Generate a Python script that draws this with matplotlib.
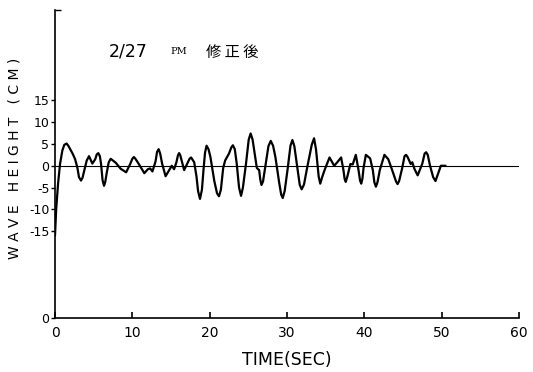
"""
Wave height record, 2/27 PM (after correction)
"""
import matplotlib
matplotlib.use("Agg")
import matplotlib.pyplot as plt

# wave record (time in sec, height in cm)
time_sec = [0.0, 0.15, 0.4, 0.65, 0.95, 1.2, 1.5, 1.75, 1.9, 2.3, 2.6, 2.9,
            3.1, 3.36, 3.55, 3.8, 4.1, 4.4, 4.83, 5.2, 5.4, 5.6, 5.8, 5.95,
            6.15, 6.34, 6.5, 6.7, 6.95, 7.2, 7.85, 8.5, 9.2, 9.7, 10.0, 10.2,
            10.4, 10.8, 11.55, 12.0, 12.3, 12.6, 13.0, 13.2, 13.4, 13.6, 13.85,
            14.3, 14.7, 15.1, 15.4, 15.7, 15.9, 16.05, 16.2, 16.4, 16.7, 17.1,
            17.4, 17.6, 18.0, 18.3, 18.5, 18.75, 19.0, 19.2, 19.4, 19.6, 19.85,
            20.1, 20.6, 20.95, 21.2, 21.45, 21.75, 22.0, 22.5, 22.8, 23.0,
            23.25, 23.5, 23.8, 24.06, 24.3, 24.7, 25.05, 25.3, 25.55, 25.8,
            26.1, 26.4, 26.55, 26.7, 26.9, 27.3, 27.6, 27.9, 28.2, 28.5, 29.0,
            29.25, 29.45, 29.7, 30.1, 30.45, 30.7, 30.95, 31.3, 31.65, 31.9,
            32.2, 32.6, 33.2, 33.5, 33.75, 33.9, 34.1, 34.3, 34.55, 34.9, 35.5,
            36.1, 36.5, 37.0, 37.3, 37.45, 37.6, 37.8, 38.2, 38.5, 38.9, 39.25,
            39.45, 39.6, 39.75, 39.9, 40.2, 40.75, 41.1, 41.3, 41.5, 41.7, 42.0,
            42.6, 43.1, 43.6, 44.1, 44.3, 44.5, 44.9, 45.2, 45.4, 45.6, 46.0,
            46.2, 46.5, 46.9, 47.5, 47.8, 48.0, 48.2, 48.5, 48.9, 49.2, 49.9,
            50.5]
wave_cm = [-16.0, -10.0, -4.0, 0.4, 3.5, 4.8, 5.1, 4.5, 4.0, 2.7, 1.5, -0.5,
           -2.6, -3.4, -2.8, -1.0, 1.2, 2.2, 0.5, 1.5, 2.6, 2.9, 2.2, 0.5,
           -3.3, -4.6, -3.7, -1.5, 0.8, 1.6, 0.7, -0.7, -1.5, 0.3, 1.6, 2.0,
           1.6, 0.5, -1.7, -0.8, -0.6, -1.3, 1.0, 3.2, 3.8, 2.8, 0.5,
           -2.4, -1.2, 0.0, -0.8, 0.8, 2.4, 2.9, 2.4, 1.0, -1.0, 0.5,
           1.6, 1.9, 0.8, -2.5, -5.8, -7.6, -5.5, -1.0, 3.0, 4.6, 3.8,
           2.0, -3.5, -6.3, -7.0, -5.5, -0.5, 1.2, 2.8, 4.2, 4.7,
           3.8, 0.5, -5.0, -6.9, -5.0, 0.5, 6.0, 7.4, 6.0, 3.0,
           -0.5, -1.0, -3.2, -4.4, -3.6, 1.0, 4.5, 5.7, 4.6, 2.0, -4.0,
           -6.6, -7.4, -5.8, -0.5, 4.6, 5.9, 4.5, 0.0, -4.4, -5.4,
           -4.3, -0.5, 4.8, 6.3, 3.8, 1.0, -2.5, -4.1, -2.6, -0.8, 1.9,
           0.0, 0.8, 1.9, -1.0, -3.0, -3.7, -2.5, 0.4, 0.3, 2.5, -1.0,
           -3.4, -4.1, -3.0, -0.5, 2.5, 1.7, -1.0, -3.8, -4.8, -3.8, -1.0,
           2.5, 1.5, -1.0, -3.6, -4.2, -3.5, -0.5, 2.2, 2.5, 2.0, 0.4,
           0.8, -0.8, -2.2, 0.5, 2.8, 3.1, 2.5, 0.0, -2.6, -3.5, 0.0,
           0.0]

x_ticks = [0, 10, 20, 30, 40, 50, 60]
y_ticks = [-15, -10, -5, 0, 5, 10, 15]
y_min, y_max = -34.9, 35.7

fig = plt.figure(figsize=(5.33, 3.72), dpi=100)
ax = fig.add_axes([0.1032, 0.1452, 0.8705, 0.8278])

ax.axhline(0, color="black", lw=0.8, zorder=1)
ax.plot(time_sec, wave_cm, color="black", lw=1.6, zorder=2,
        solid_joinstyle="round", solid_capstyle="round")

ax.set_xlim(0, 60)
ax.set_ylim(y_min, y_max)
for side in ("top", "right"):
    ax.spines[side].set_visible(False)
ax.spines["left"].set_linewidth(1.2)
ax.spines["bottom"].set_linewidth(1.2)

ax.set_xticks(x_ticks)
ax.set_xticklabels([str(t) for t in x_ticks], fontsize=10)
ax.tick_params(axis="x", direction="in", length=4, width=1.2, pad=6)

ax.set_yticks([y_min] + y_ticks)
ax.set_yticklabels(["0"] + [str(t) for t in y_ticks],
                   family=["Liberation Sans Narrow", "DejaVu Sans"], fontsize=9)
ax.tick_params(axis="y", direction="out", length=3, width=1.0, pad=1)
ax.set_yticks([y_max], minor=True)
ax.tick_params(axis="y", which="minor", direction="in", length=4, width=1.0)

ax.set_xlabel("TIME(SEC)", fontsize=12.5, labelpad=8)
fig.text(0.028, 0.575, "W A V E   H E I G H T   ( C M )", rotation=90,
         ha="center", va="center", fontsize=10)

fig.text(109 / 533, 1 - 52 / 372, "2/27", fontsize=12.5, va="center")
fig.text(170 / 533, 1 - 52 / 372, "PM", fontsize=7, family="DejaVu Serif",
         va="center")
fig.text(206 / 533, 1 - 52 / 372, "修 正 後", fontsize=11,
         family=["Noto Sans CJK JP", "DejaVu Sans"], va="center")

fig.savefig("out.png", dpi=100)
